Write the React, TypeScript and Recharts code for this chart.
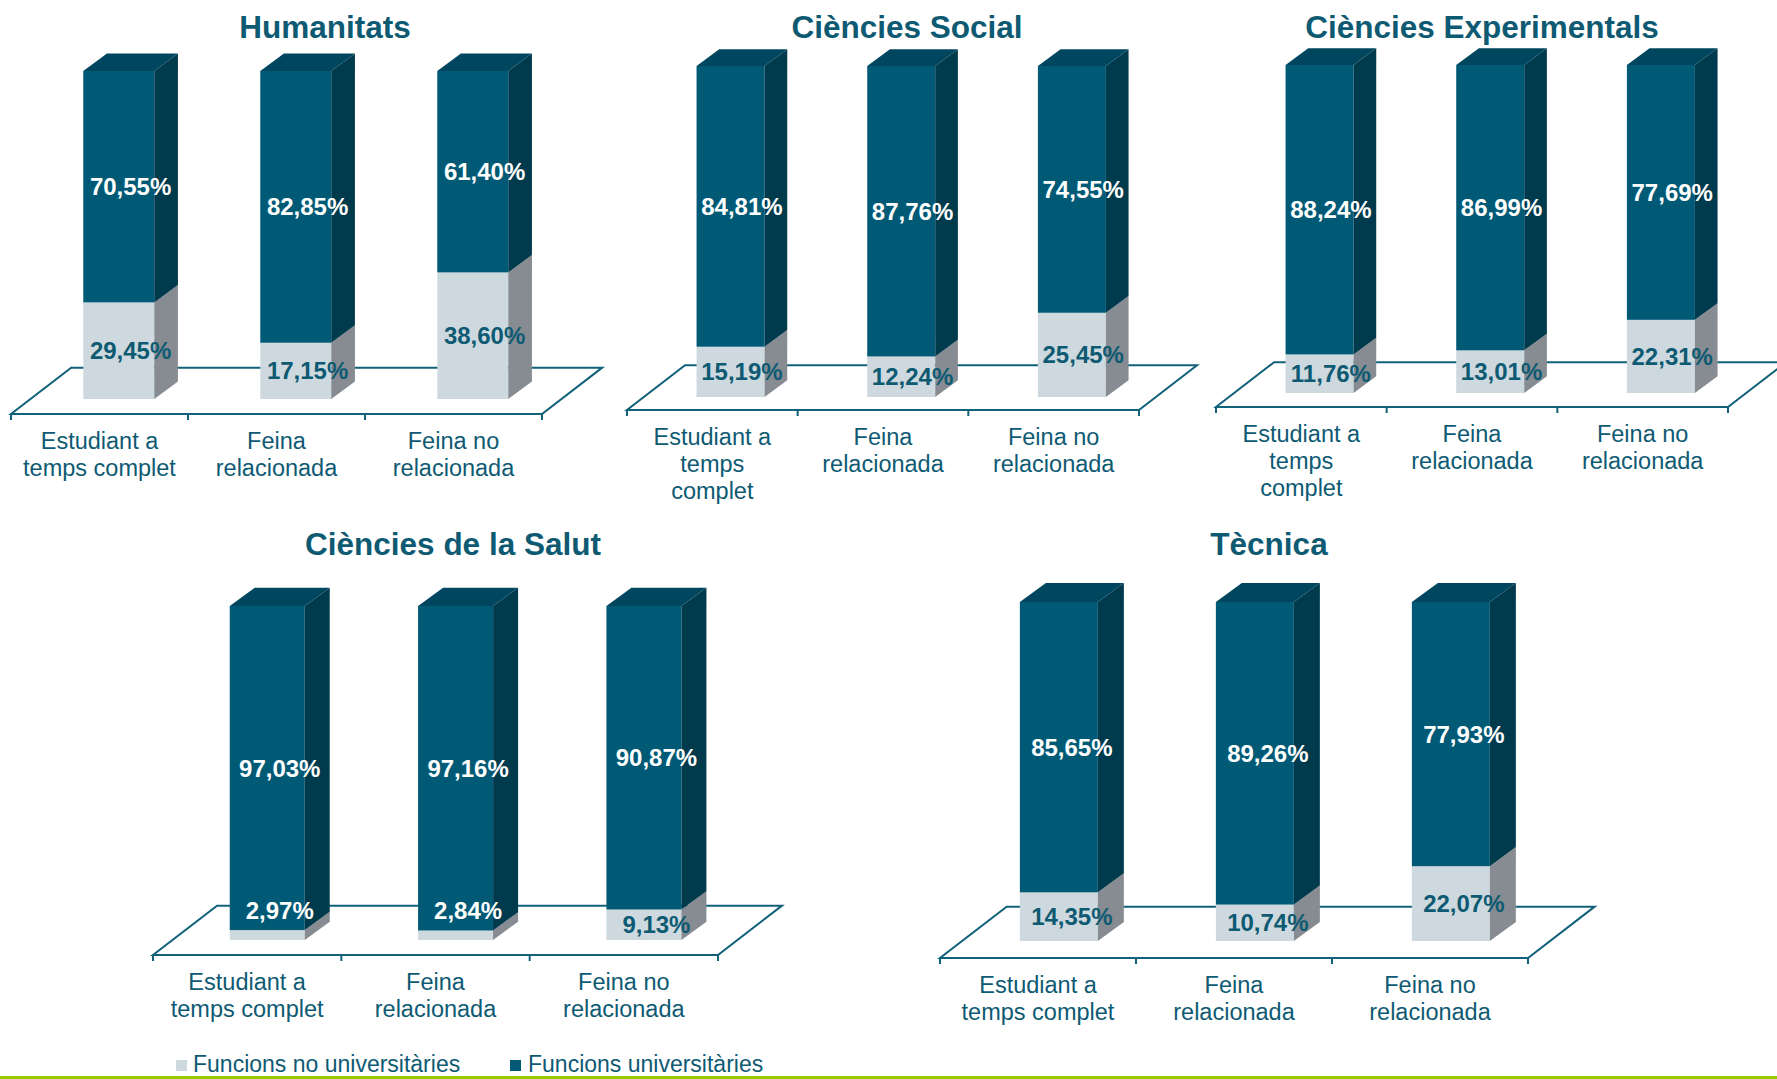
import React from "react";
import { BarChart, Bar, XAxis, YAxis } from "recharts";

// categories shared by every panel
const categories = ["Estudiant a temps complet", "Feina relacionada", "Feina no relacionada"];

const panelTitles = ["Humanitats", "Ciències Social", "Ciències Experimentals", "Ciències de la Salut", "Tècnica"];

// % Funcions no universitàries / universitàries per panel
const humanitatsNoUniv = [29.45, 17.15, 38.6];
const humanitatsUniv = [70.55, 82.85, 61.4];
const socialNoUniv = [15.19, 12.24, 25.45];
const socialUniv = [84.81, 87.76, 74.55];
const experimentalsNoUniv = [11.76, 13.01, 22.31];
const experimentalsUniv = [88.24, 86.99, 77.69];
const salutNoUniv = [2.97, 2.84, 9.13];
const salutUniv = [97.03, 97.16, 90.87];
const tecnicaNoUniv = [14.35, 10.74, 22.07];
const tecnicaUniv = [85.65, 89.26, 77.93];

const legendLabels = ["Funcions no universitàries", "Funcions universitàries"];

const PAGE_W = 1777;
const PAGE_H = 1079;
const DARK = "#005a76";
const DARK_TOP = "#00465f";
const DARK_SIDE = "#003a4d";
const LIGHT = "#cdd9de";
const LIGHT_SIDE = "#868c91";
const TEXT = "#0e5a73";
const LINE = "#11617a";
const FONT = "'Liberation Sans', Arial, sans-serif";

const fmt = (v: number) => v.toFixed(2).replace(".", ",") + "%";

const buildRows = (noUniv: number[], univ: number[]) =>
  categories.map((category, i) => ({ category, noUniv: noUniv[i], univ: univ[i] }));

const panelData = [
  buildRows(humanitatsNoUniv, humanitatsUniv),
  buildRows(socialNoUniv, socialUniv),
  buildRows(experimentalsNoUniv, experimentalsUniv),
  buildRows(salutNoUniv, salutUniv),
  buildRows(tecnicaNoUniv, tecnicaUniv),
];

// layout only: floor front edge (L..R at y F), plot top/bottom, title centre, label wrap width
const layouts = [
  { titleX: 325, titleY: 27, L: 11, R: 542, F: 414, top: 71, bottom: 399, wrap: 14 },
  { titleX: 907, titleY: 27, L: 627, R: 1139, F: 410, top: 66, bottom: 397, wrap: 12 },
  { titleX: 1482, titleY: 27, L: 1216, R: 1728, F: 407, top: 65, bottom: 393, wrap: 12 },
  { titleX: 453, titleY: 544, L: 153, R: 718, F: 955, top: 606, bottom: 940, wrap: 14 },
  { titleX: 1269, titleY: 544, L: 940, R: 1528, F: 958, top: 602, bottom: 941, wrap: 14 },
];

function wrap(label: string, maxChars: number) {
  const words = label.split(" ");
  const lines: string[] = [];
  let cur = "";
  for (const w of words) {
    const next = cur ? cur + " " + w : w;
    if (next.length > maxChars && cur) {
      lines.push(cur);
      cur = w;
    } else cur = next;
  }
  if (cur) lines.push(cur);
  return lines;
}

const depth = (width: number) => ({ dx: width / 3, dy: width * 0.245, shift: width * 0.27 });

function LightShape(props: any) {
  const { x, y, width, height } = props;
  if (!width || height == null) return null;
  const { dx, dy, shift } = depth(width);
  const sx = x + shift;
  return (
    <g>
      <rect x={sx} y={y} width={width} height={height} fill={LIGHT} />
      <polygon
        points={`${sx + width},${y} ${sx + width + dx},${y - dy} ${sx + width + dx},${y + height - dy} ${sx + width},${y + height}`}
        fill={LIGHT_SIDE}
      />
    </g>
  );
}

function DarkShape(props: any) {
  const { x, y, width, height, payload } = props;
  if (!width || height == null) return null;
  const { dx, dy, shift } = depth(width);
  const sx = x + shift;
  const cx = sx + width / 2 + dx / 2;
  const pxPerUnit = height / payload.univ;
  const lightH = payload.noUniv * pxPerUnit;
  const small = payload.noUniv < 5;
  const lightY = small ? y + height - 20 : y + height + lightH / 2;
  const labelStyle = { fontFamily: FONT, fontSize: 24, fontWeight: 700 } as const;
  return (
    <g>
      <rect x={sx} y={y} width={width} height={height} fill={DARK} />
      <polygon
        points={`${sx + width},${y} ${sx + width + dx},${y - dy} ${sx + width + dx},${y + height - dy} ${sx + width},${y + height}`}
        fill={DARK_SIDE}
      />
      <polygon
        points={`${sx},${y} ${sx + dx},${y - dy} ${sx + width + dx},${y - dy} ${sx + width},${y}`}
        fill={DARK_TOP}
      />
      <text x={cx} y={y + height / 2} textAnchor="middle" dominantBaseline="central" fill="#ffffff" style={labelStyle}>
        {fmt(payload.univ)}
      </text>
      <text x={cx} y={lightY} textAnchor="middle" dominantBaseline="central" fill={small ? "#ffffff" : TEXT} style={labelStyle}>
        {fmt(payload.noUniv)}
      </text>
    </g>
  );
}

function Floor({ L, R, F }: { L: number; R: number; F: number }) {
  const band = (R - L) / 3;
  const fdx = band * 0.34;
  const fdy = band * 0.262;
  return (
    <svg width={PAGE_W} height={PAGE_H} style={{ position: "absolute", left: 0, top: 0 }}>
      <polygon
        points={`${L},${F} ${R},${F} ${R + fdx},${F - fdy} ${L + fdx},${F - fdy}`}
        fill="#ffffff"
        stroke={LINE}
        strokeWidth={2}
      />
      {[0, 1, 2, 3].map((i) => (
        <line key={i} x1={L + i * band} x2={L + i * band} y1={F} y2={F + 6} stroke={LINE} strokeWidth={2} />
      ))}
    </svg>
  );
}

function Panel({ idx }: { idx: number }) {
  const lay = layouts[idx];
  const CatTick = (p: any) => {
    const lines = wrap(String(p.payload.value), lay.wrap);
    return (
      <g>
        {lines.map((ln, i) => (
          <text
            key={i}
            x={p.x}
            y={lay.F + 27 + i * 27}
            textAnchor="middle"
            dominantBaseline="central"
            fill={TEXT}
            style={{ fontFamily: FONT, fontSize: 23.5 }}
          >
            {ln}
          </text>
        ))}
      </g>
    );
  };
  return (
    <>
      <Floor L={lay.L} R={lay.R} F={lay.F} />
      <div style={{ position: "absolute", left: 0, top: 0 }}>
        <BarChart
          width={PAGE_W}
          height={PAGE_H}
          data={panelData[idx]}
          barCategoryGap="30%"
          margin={{ left: lay.L, right: PAGE_W - lay.R, top: lay.top, bottom: PAGE_H - lay.bottom - 30 }}
        >
          <XAxis dataKey="category" height={30} axisLine={false} tickLine={false} interval={0} tick={<CatTick />} />
          <YAxis hide domain={[0, 100]} />
          <Bar dataKey="noUniv" stackId="a" fill={LIGHT} shape={<LightShape />} isAnimationActive={false} />
          <Bar dataKey="univ" stackId="a" fill={DARK} shape={<DarkShape />} isAnimationActive={false} />
        </BarChart>
      </div>
      <div
        style={{
          position: "absolute",
          left: lay.titleX,
          top: lay.titleY,
          transform: "translate(-50%, -50%)",
          fontFamily: FONT,
          fontSize: 31.5,
          fontWeight: 700,
          color: TEXT,
          whiteSpace: "nowrap",
        }}
      >
        {panelTitles[idx]}
      </div>
    </>
  );
}

export default function App() {
  return (
    <div style={{ position: "absolute", left: 0, top: 0, width: PAGE_W, height: PAGE_H, background: "#fff", overflow: "hidden" }}>
      {layouts.map((_, i) => (
        <Panel key={i} idx={i} />
      ))}
      <svg width={PAGE_W} height={PAGE_H} style={{ position: "absolute", left: 0, top: 0, pointerEvents: "none" }}>
        <rect x={176} y={1060} width={11} height={11} fill={LIGHT} />
        <text x={193} y={1072} fill={TEXT} style={{ fontFamily: FONT, fontSize: 23 }}>
          {legendLabels[0]}
        </text>
        <rect x={510} y={1060} width={11} height={11} fill={DARK} />
        <text x={528} y={1072} fill={TEXT} style={{ fontFamily: FONT, fontSize: 23 }}>
          {legendLabels[1]}
        </text>
        <rect x={0} y={1076} width={PAGE_W} height={3} fill="#99cc00" />
      </svg>
    </div>
  );
}
